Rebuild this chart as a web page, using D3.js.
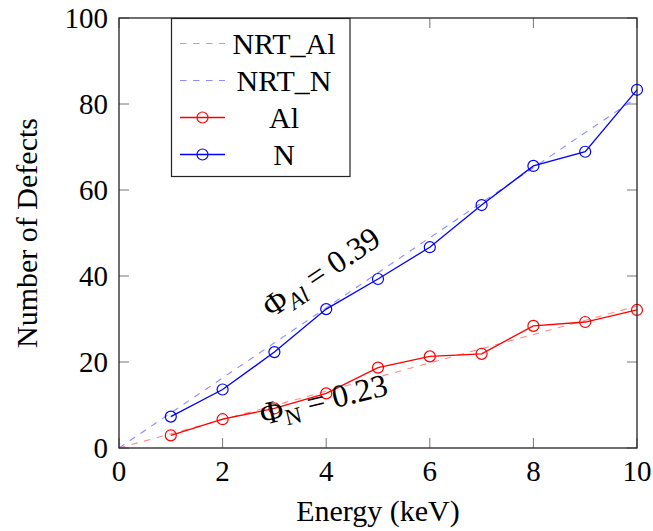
<!DOCTYPE html>
<html><head><meta charset="utf-8"><script src="https://cdn.jsdelivr.net/npm/d3@7"></script></head>
<body style="margin:0">
<svg id="chart" width="653" height="531" style="display:block"></svg>
<script>
// ---- data ----
const energy = [1, 2, 3, 4, 5, 6, 7, 8, 9, 10];
const alDefects = [2.95, 6.7, 9.2, 12.7, 18.7, 21.3, 21.9, 28.4, 29.3, 32.1];
const nDefects = [7.3, 13.6, 22.3, 32.3, 39.3, 46.7, 56.5, 65.6, 68.9, 83.3];
const nrtEnergy = [0, 10];
const nrtAl = [0, 33];
const nrtN = [0, 81.5];
const xTicks = [0, 2, 4, 6, 8, 10];
const yTicks = [0, 20, 40, 60, 80, 100];
const legendLabels = ["NRT_Al", "NRT_N", "Al", "N"];

// ---- layout ----
const svg = d3.select("#chart");
const pL = 119, pR = 637, pT = 18, pB = 448;
const x = d3.scaleLinear().domain([0, 10]).range([pL, pR]);
const y = d3.scaleLinear().domain([0, 100]).range([pB, pT]);
const tickLen = 10;
const red = "#ff0000", blue = "#0000ff";
const redLight = "#ff8c8c", blueLight = "#8c8cff";
const tickColor = "#777";

function txt(sel, size) {
  return sel.style("font", `${size}px "Times New Roman", "Liberation Serif", Times`);
}

// tick labels
txt(svg.selectAll("text.xt").data(xTicks).join("text").attr("class", "xt"), 29)
  .attr("x", d => x(d)).attr("y", 481)
  .attr("text-anchor", "middle").text(d => d);
txt(svg.selectAll("text.yt").data(yTicks).join("text").attr("class", "yt"), 29)
  .attr("x", 108).attr("y", d => y(d) + 10)
  .attr("text-anchor", "end").text(d => d);

// axis titles
txt(svg.append("text"), 30).attr("x", (pL + pR) / 2).attr("y", 521)
  .attr("text-anchor", "middle").text("Energy (keV)");
txt(svg.append("text"), 30)
  .attr("transform", `translate(37,${(pT + pB) / 2}) rotate(-90)`)
  .attr("text-anchor", "middle").text("Number of Defects");

// inward ticks on all four sides
const tg = svg.append("g").attr("stroke", tickColor).attr("stroke-width", 1);
tg.selectAll("line.xb").data(xTicks).join("line").attr("class", "xb")
  .attr("x1", d => x(d)).attr("x2", d => x(d)).attr("y1", pB).attr("y2", pB - tickLen);
tg.selectAll("line.xtp").data(xTicks).join("line").attr("class", "xtp")
  .attr("x1", d => x(d)).attr("x2", d => x(d)).attr("y1", pT).attr("y2", pT + tickLen);
tg.selectAll("line.yl").data(yTicks).join("line").attr("class", "yl")
  .attr("y1", d => y(d)).attr("y2", d => y(d)).attr("x1", pL).attr("x2", pL + tickLen);
tg.selectAll("line.yr").data(yTicks).join("line").attr("class", "yr")
  .attr("y1", d => y(d)).attr("y2", d => y(d)).attr("x1", pR).attr("x2", pR - tickLen);

// lines
const line = d3.line().x(d => x(d[0])).y(d => y(d[1]));
const plotG = svg.append("g");
plotG.append("path").datum(nrtEnergy.map((e, i) => [e, nrtAl[i]]))
  .attr("d", line).attr("fill", "none").attr("stroke", redLight)
  .attr("stroke-width", 1.1).attr("stroke-dasharray", "6.5,6.5");
plotG.append("path").datum(nrtEnergy.map((e, i) => [e, nrtN[i]]))
  .attr("d", line).attr("fill", "none").attr("stroke", blueLight)
  .attr("stroke-width", 1.1).attr("stroke-dasharray", "6.5,6.5");

function series(vals, color) {
  const pts = energy.map((e, i) => [e, vals[i]]);
  plotG.append("path").datum(pts).attr("d", line).attr("fill", "none")
    .attr("stroke", color).attr("stroke-width", 1.3);
  plotG.append("g").selectAll("circle").data(pts).join("circle")
    .attr("cx", d => x(d[0])).attr("cy", d => y(d[1])).attr("r", 5.5)
    .attr("fill", "none").attr("stroke", color).attr("stroke-width", 1.2);
}
series(alDefects, red);
series(nDefects, blue);

// annotations
const ann1 = txt(svg.append("text"), 32)
  .attr("transform", "translate(327,281) rotate(-34)")
  .attr("text-anchor", "middle");
ann1.append("tspan").text("Φ");
ann1.append("tspan").style("font-size", "23px").style("font-style", "italic").attr("dy", 6).text("Al");
ann1.append("tspan").attr("dy", -6).text(" = 0.39");

const ann2 = txt(svg.append("text"), 32)
  .attr("transform", "translate(326,410) rotate(-13.5)")
  .attr("text-anchor", "middle");
ann2.append("tspan").text("Φ");
ann2.append("tspan").style("font-size", "23px").attr("dy", 6).text("N");
ann2.append("tspan").attr("dy", -6).text(" = 0.23");

// frame
svg.append("rect").attr("x", pL).attr("y", pT)
  .attr("width", pR - pL).attr("height", pB - pT)
  .attr("fill", "none").attr("stroke", "#222").attr("stroke-width", 1.3);

// legend
const lg = svg.append("g");
lg.append("rect").attr("x", 171.5).attr("y", 18.5).attr("width", 178.5).attr("height", 158)
  .attr("fill", "#fff").attr("stroke", "#222").attr("stroke-width", 1.2);
const legendStyles = [
  { color: redLight, dash: "6.5,6.5", mark: false },
  { color: blueLight, dash: "6.5,6.5", mark: false },
  { color: red, dash: null, mark: true },
  { color: blue, dash: null, mark: true }
];
legendLabels.forEach((lab, i) => {
  const cy = 43.5 + i * 37;
  const st = legendStyles[i];
  lg.append("line").attr("x1", 180).attr("x2", 225).attr("y1", cy).attr("y2", cy)
    .attr("stroke", st.color).attr("stroke-width", st.mark ? 1.3 : 1.1)
    .attr("stroke-dasharray", st.dash);
  if (st.mark) {
    lg.append("circle").attr("cx", 202.5).attr("cy", cy).attr("r", 5.5)
      .attr("fill", "none").attr("stroke", st.color).attr("stroke-width", 1.2);
  }
  txt(lg.append("text"), 30)
    .attr("x", 284).attr("y", cy + 10).attr("text-anchor", "middle").text(lab);
});
</script>
</body>
</html>
